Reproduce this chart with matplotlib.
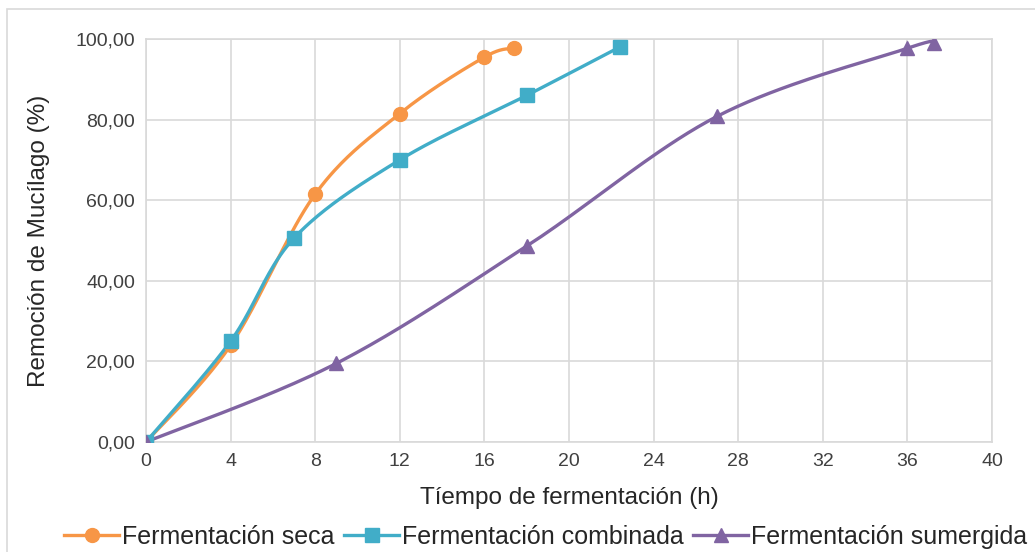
# IMPORT LIBRARY
import matplotlib.pyplot as plt
import numpy as np
from matplotlib.patches import Rectangle
from matplotlib.ticker import FuncFormatter

# DATA
x_seca = [0, 4, 8, 12, 16, 17.4]
y_seca = [0, 24.0, 61.5, 81.5, 95.5, 97.7]

x_comb = [0, 4, 7, 12, 18, 22.4]
y_comb = [0, 25.0, 50.6, 70.0, 86.0, 98.0]

x_sum = [0, 9, 18, 27, 36, 37.25]
y_sum = [0, 19.5, 48.6, 80.8, 97.7, 99.0]

labels = ["Fermentación seca", "Fermentación combinada", "Fermentación sumergida"]
colors = ["#F79646", "#41ADC8", "#8064A2"]
markers = ["o", "s", "^"]

plt.rcParams['font.family'] = ['Liberation Sans', 'DejaVu Sans']


def suavizar(x, y, sx=21.15, sy=4.03, n=40):
    """Curva suavizada tipo Excel (bezier con tangentes catmull-rom)"""
    p = np.column_stack([np.asarray(x) * sx, np.asarray(y) * sy])
    m = len(p)
    out = []
    for i in range(m - 1):
        p0 = p[i - 1] if i > 0 else p[i]
        p1 = p[i]
        p2 = p[i + 1]
        p3 = p[i + 2] if i + 2 < m else p[i + 1]
        c1 = p1 + (p2 - p0) / 6
        c2 = p2 - (p3 - p1) / 6
        t = np.linspace(0, 1, n)[:, None]
        seg = ((1 - t) ** 3 * p1 + 3 * (1 - t) ** 2 * t * c1
               + 3 * (1 - t) * t ** 2 * c2 + t ** 3 * p2)
        out.append(seg if i == 0 else seg[1:])
    out = np.vstack(out)
    return out[:, 0] / sx, out[:, 1] / sy


# PLOT
fig = plt.figure(figsize=(10.35, 5.52), dpi=100)
ax = fig.add_axes([146 / 1035, 1 - 442 / 552, 846 / 1035, 403 / 552])

fig.patches.append(Rectangle((7 / 1035, -0.1), 1.2, 1 - 9 / 552 + 0.1,
                             transform=fig.transFigure, fill=False,
                             edgecolor="#D9D9D9", linewidth=1.2))

series = [(x_seca, y_seca), (x_comb, y_comb), (x_sum, y_sum)]
for (xs, ys), lab, c, mk in zip(series, labels, colors, markers):
    xx, yy = suavizar(xs, ys)
    ax.plot(xx, yy, color=c, linewidth=2.4, zorder=3)
    ax.plot(xs, ys, linestyle="none", marker=mk, markersize=10,
            color=c, zorder=4)
    ax.plot([], [], color=c, linewidth=2.4, marker=mk, markersize=10,
            label=lab)

ax.set_xlim(0, 40)
ax.set_ylim(0, 100)
ax.set_xticks(np.arange(0, 41, 4))
ax.set_yticks(np.arange(0, 101, 20))
ax.yaxis.set_major_formatter(FuncFormatter(lambda v, p: f"{v:.2f}".replace(".", ",")))
ax.grid(color="#D9D9D9", linewidth=1.2)
ax.set_axisbelow(True)
for s in ax.spines.values():
    s.set_color("#D9D9D9")
    s.set_linewidth(1.2)
ax.tick_params(length=0, labelsize=14, colors="#404040", pad=8)

ax.set_xlabel("Tíempo de fermentación (h)", fontsize=17.5, color="#262626", labelpad=12)
ax.set_ylabel("Remoción de Mucílago (%)", fontsize=17.5, color="#262626", labelpad=18)

fig.legend(loc="lower center", bbox_to_anchor=(0.527, -0.035), ncol=3,
           frameon=False, fontsize=18, handlelength=2.2, handletextpad=0.1,
           columnspacing=0.4, labelcolor="#262626")

fig.savefig("out.png", dpi=100)
